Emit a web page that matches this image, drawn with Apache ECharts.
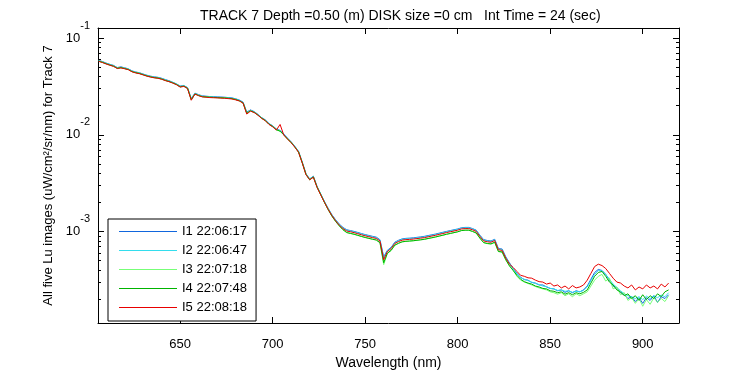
<!DOCTYPE html>
<html>
<head>
<meta charset="utf-8">
<script src="https://cdn.jsdelivr.net/npm/echarts@6/dist/echarts.min.js"></script>
<style>html,body{margin:0;padding:0;background:#fff;}#chart{width:750px;height:375px;}</style>
</head>
<body>
<div id="chart"></div>
<script>
const titleText = 'TRACK 7 Depth =0.50 (m) DISK size =0 cm   Int Time = 24 (sec)';
const xName = 'Wavelength (nm)';
const yName = 'All five Lu images (uW/cm²/sr/nm) for Track 7';
const seriesNames = ['I1 22:06:17', 'I2 22:06:47', 'I3 22:07:18', 'I4 22:07:48', 'I5 22:08:18'];
const seriesColors = ['#1166dd', '#33dded', '#77ff77', '#00b400', '#e80000'];

const xTickValues = [650, 700, 750, 800, 850, 900];
const yMajorTicks = [1e-3, 1e-2, 1e-1];
const yMinorTicks = [2e-4,3e-4,4e-4,5e-4,6e-4,7e-4,8e-4,9e-4,
                     2e-3,3e-3,4e-3,5e-3,6e-3,7e-3,8e-3,9e-3,
                     2e-2,3e-2,4e-2,5e-2,6e-2,7e-2,8e-2,9e-2];

const wavelength = [606,608,610,612,614,616,618,620,622,624,626,628,
630,632,634,636,638,640,642,644,646,648,650,652,
654,656,658,660,662,664,666,668,670,672,674,676,
678,680,682,684,686,688,690,692,694,696,698,700,
702,704,706,708,710,712,714,716,718,720,722,724,
726,728,730,732,734,736,738,740,742,744,746,748,
750,752,754,756,758,760,762,764,766,768,770,772,
774,776,778,780,782,784,786,788,790,792,794,796,
798,800,802,804,806,808,810,812,814,816,818,820,
822,824,826,828,
830,832,834,836,838,840,842,844,846,848,
850,852,854,856,858,860,862,864,866,868,
870,872,874,876,878,880,882,884,886,888,
890,892,894,896,898,900,902,904,906,908,
910,912,914];

const I1 = [0.0589,0.0573,0.0553,0.0537,0.0523,0.0497,0.0505,0.0494,0.0482,0.0459,0.0447,0.0439,
0.0426,0.0414,0.0405,0.0398,0.0394,0.0385,0.0373,0.0363,0.0350,0.0337,0.0320,0.0324,
0.0308,0.0238,0.0270,0.0260,0.0253,0.0251,0.0249,0.0248,0.0247,0.0246,0.0245,0.0243,
0.0241,0.0236,0.0229,0.0218,0.0172,0.0181,0.0174,0.0163,0.0151,0.0143,0.0131,0.0124,
0.0115,0.0111,0.0102,0.00925,0.00846,0.00760,0.00674,0.00522,0.00396,0.00350,0.00373,0.00292,
0.00244,0.00204,0.00173,0.00149,0.00132,0.00119,0.00110,0.00104,0.00102,0.00100,0.000976,0.000950,
0.000927,0.000908,0.000889,0.000872,0.000820,0.000545,0.000638,0.000683,0.000773,0.000809,0.000837,0.000847,
0.000852,0.000858,0.000868,0.000878,0.000889,0.000906,0.000922,0.000939,0.000959,0.000980,0.00100,0.00102,
0.00104,0.00106,0.00109,0.00110,0.00110,0.00107,0.00103,0.000914,0.000823,0.000805,0.000796,0.000829,
0.000665,0.000657,0.000545,0.000472,
4.13e-4,3.68e-4,3.35e-4,3.17e-4,3.13e-4,2.96e-4,2.92e-4,2.79e-4,2.79e-4,2.66e-4,
2.57e-4,2.54e-4,2.43e-4,2.48e-4,2.34e-4,2.43e-4,2.32e-4,2.43e-4,2.37e-4,2.48e-4,
2.72e-4,3.20e-4,3.76e-4,4.04e-4,3.94e-4,3.59e-4,3.13e-4,2.72e-4,2.60e-4,2.32e-4,
2.21e-4,2.02e-4,2.11e-4,1.88e-4,2.06e-4,1.80e-4,2.06e-4,1.93e-4,2.16e-4,1.84e-4,
2.11e-4,2.02e-4,2.21e-4];

const I2 = [0.0585,0.0569,0.0549,0.0533,0.0519,0.0493,0.0501,0.0490,0.0479,0.0456,0.0444,0.0436,
0.0423,0.0411,0.0402,0.0395,0.0391,0.0382,0.0370,0.0360,0.0348,0.0335,0.0317,0.0322,
0.0306,0.0234,0.0268,0.0258,0.0251,0.0249,0.0247,0.0246,0.0245,0.0244,0.0243,0.0241,
0.0239,0.0234,0.0227,0.0216,0.0169,0.0179,0.0173,0.0162,0.0150,0.0142,0.0130,0.0123,
0.0114,0.0110,0.0101,0.00918,0.00840,0.00755,0.00669,0.00518,0.00393,0.00347,0.00370,0.00290,
0.00242,0.00203,0.00172,0.00148,0.00131,0.00118,0.00109,0.00103,0.00101,0.000989,0.000964,0.000939,
0.000916,0.000897,0.000878,0.000862,0.000810,0.000533,0.000630,0.000675,0.000764,0.000799,0.000827,0.000837,
0.000842,0.000848,0.000858,0.000868,0.000878,0.000895,0.000911,0.000928,0.000948,0.000968,0.000991,0.00101,
0.00103,0.00105,0.00108,0.00109,0.00109,0.00106,0.00102,0.000903,0.000813,0.000795,0.000787,0.000819,
0.000657,0.000649,0.000539,0.000466,
4.08e-4,3.63e-4,3.31e-4,3.20e-4,3.09e-4,2.99e-4,2.89e-4,2.82e-4,2.72e-4,2.69e-4,
2.57e-4,2.54e-4,2.45e-4,2.48e-4,2.40e-4,2.43e-4,2.34e-4,2.40e-4,2.37e-4,2.45e-4,
2.66e-4,3.09e-4,3.59e-4,3.94e-4,3.90e-4,3.59e-4,3.20e-4,2.85e-4,2.63e-4,2.43e-4,
2.26e-4,2.16e-4,2.11e-4,2.02e-4,2.11e-4,1.97e-4,2.14e-4,2.02e-4,2.16e-4,2.06e-4,
2.19e-4,2.11e-4,2.32e-4];

const I3 = [0.0581,0.0565,0.0545,0.0529,0.0516,0.0490,0.0497,0.0487,0.0476,0.0453,0.0441,0.0433,
0.0420,0.0408,0.0399,0.0392,0.0388,0.0379,0.0367,0.0357,0.0346,0.0333,0.0315,0.0320,
0.0304,0.0232,0.0266,0.0256,0.0249,0.0247,0.0245,0.0244,0.0243,0.0242,0.0241,0.0239,
0.0237,0.0232,0.0225,0.0214,0.0168,0.0178,0.0171,0.0161,0.0149,0.0141,0.0129,0.0122,
0.0113,0.0109,0.0100,0.00910,0.00833,0.00749,0.00664,0.00514,0.00390,0.00344,0.00367,0.00288,
0.00240,0.00200,0.00169,0.00145,0.00128,0.00115,0.00105,0.000978,0.000958,0.000938,0.000914,0.000890,
0.000868,0.000850,0.000832,0.000817,0.000760,0.000453,0.000590,0.000633,0.000718,0.000752,0.000779,0.000789,
0.000794,0.000800,0.000809,0.000818,0.000828,0.000844,0.000859,0.000875,0.000894,0.000913,0.000934,0.000952,
0.000971,0.000990,0.00102,0.00103,0.00103,0.00100,0.000962,0.000850,0.000765,0.000748,0.000741,0.000771,
0.000618,0.000611,0.000507,0.000438,
3.94e-4,3.43e-4,3.13e-4,2.99e-4,2.89e-4,2.79e-4,2.69e-4,2.60e-4,2.54e-4,2.48e-4,
2.37e-4,2.32e-4,2.24e-4,2.32e-4,2.16e-4,2.26e-4,2.11e-4,2.26e-4,2.16e-4,2.26e-4,
2.37e-4,2.72e-4,3.13e-4,3.43e-4,3.59e-4,3.06e-4,3.28e-4,2.54e-4,2.66e-4,2.21e-4,
2.32e-4,1.93e-4,2.06e-4,1.80e-4,2.02e-4,1.68e-4,1.97e-4,1.76e-4,2.06e-4,1.84e-4,
2.02e-4,1.88e-4,2.16e-4];

const I4 = [0.0579,0.0563,0.0544,0.0528,0.0514,0.0488,0.0496,0.0485,0.0474,0.0451,0.0440,0.0432,
0.0419,0.0407,0.0398,0.0391,0.0387,0.0378,0.0366,0.0356,0.0345,0.0332,0.0314,0.0319,
0.0303,0.0231,0.0265,0.0255,0.0248,0.0247,0.0245,0.0244,0.0243,0.0242,0.0241,0.0239,
0.0237,0.0232,0.0225,0.0214,0.0167,0.0177,0.0171,0.0160,0.0149,0.0141,0.0129,0.0122,
0.0113,0.0109,0.0100,0.00909,0.00832,0.00747,0.00662,0.00513,0.00389,0.00343,0.00366,0.00287,
0.00240,0.00199,0.00168,0.00144,0.00127,0.00114,0.00104,0.000972,0.000953,0.000934,0.000910,0.000886,
0.000865,0.000847,0.000829,0.000814,0.000765,0.000474,0.000595,0.000637,0.000721,0.000754,0.000781,0.000790,
0.000795,0.000801,0.000810,0.000819,0.000829,0.000845,0.000860,0.000876,0.000895,0.000914,0.000935,0.000953,
0.000972,0.000991,0.00102,0.00103,0.00103,0.00100,0.000963,0.000852,0.000767,0.000750,0.000743,0.000773,
0.000620,0.000613,0.000509,0.000440,
3.94e-4,3.51e-4,3.20e-4,3.02e-4,2.92e-4,2.85e-4,2.72e-4,2.66e-4,2.57e-4,2.54e-4,
2.43e-4,2.40e-4,2.32e-4,2.37e-4,2.24e-4,2.32e-4,2.21e-4,2.32e-4,2.26e-4,2.34e-4,
2.48e-4,2.92e-4,3.43e-4,3.76e-4,3.85e-4,3.43e-4,2.99e-4,2.79e-4,2.48e-4,2.37e-4,
2.16e-4,2.26e-4,2.02e-4,2.16e-4,1.93e-4,2.21e-4,1.97e-4,2.16e-4,2.02e-4,2.26e-4,
2.11e-4,2.37e-4,2.48e-4];

const I5 = [0.0576,0.0560,0.0541,0.0525,0.0511,0.0486,0.0493,0.0483,0.0472,0.0449,0.0437,0.0429,
0.0417,0.0405,0.0396,0.0389,0.0385,0.0376,0.0364,0.0355,0.0343,0.0330,0.0312,0.0317,
0.0301,0.0228,0.0264,0.0254,0.0247,0.0245,0.0243,0.0242,0.0241,0.0240,0.0239,0.0237,
0.0235,0.0230,0.0224,0.0213,0.0164,0.0176,0.0170,0.0160,0.0148,0.0140,0.0128,0.0121,
0.0112,0.0128,0.00995,0.00904,0.00827,0.00744,0.00659,0.00510,0.00387,0.00342,0.00364,0.00286,
0.00238,0.00200,0.00169,0.00146,0.00129,0.00116,0.00107,0.00101,0.000992,0.000971,0.000947,0.000922,
0.000900,0.000881,0.000862,0.000846,0.000795,0.000509,0.000619,0.000663,0.000750,0.000785,0.000812,0.000822,
0.000827,0.000833,0.000843,0.000852,0.000862,0.000879,0.000895,0.000911,0.000931,0.000951,0.000973,0.000992,
0.00101,0.00103,0.00106,0.00107,0.00107,0.00104,0.00100,0.000887,0.000798,0.000781,0.000773,0.000804,
0.000645,0.000637,0.000529,0.000458,
4.23e-4,3.85e-4,3.51e-4,3.43e-4,3.31e-4,3.28e-4,3.13e-4,3.02e-4,2.99e-4,2.85e-4,
2.92e-4,2.72e-4,2.79e-4,2.60e-4,2.72e-4,2.54e-4,2.75e-4,2.60e-4,2.66e-4,2.79e-4,
3.13e-4,3.68e-4,4.33e-4,4.58e-4,4.43e-4,4.13e-4,3.68e-4,3.28e-4,2.99e-4,2.92e-4,
2.72e-4,2.60e-4,2.79e-4,2.48e-4,2.66e-4,2.54e-4,2.79e-4,2.60e-4,2.72e-4,2.54e-4,
2.85e-4,2.66e-4,2.92e-4];

const allSeries = [I1, I2, I3, I4, I5];

const FONT = '"Liberation Sans", Arial, Helvetica, sans-serif';
const X_MIN = 605.6, X_MAX = 919.6;
const Y_MIN = 1.127e-4, Y_MAX = 0.1276;

const chart = echarts.init(document.getElementById('chart'), null, {renderer: 'canvas'});

const black = '#000';
function xAxisDef(pos, withLabels) {
  return {
    type: 'value', position: pos, min: X_MIN, max: X_MAX,
    axisLine: {show: true, onZero: false, lineStyle: {color: black, width: 1}},
    axisTick: {show: true, inside: true, length: 6, customValues: xTickValues, lineStyle: {color: black}},
    axisLabel: withLabels ? {show: true, customValues: xTickValues, color: black, fontSize: 13, fontFamily: FONT, margin: 15}
                          : {show: false},
    splitLine: {show: false},
    name: withLabels ? xName : '',
    nameLocation: 'middle', nameGap: 33,
    nameTextStyle: {color: black, fontSize: 14, fontFamily: FONT}
  };
}
function yAxisDef(pos, ticks, len, withLine, withLabels) {
  const a = {
    type: 'log', position: pos, min: Y_MIN, max: Y_MAX, logBase: 10,
    axisLine: {show: withLine, onZero: false, lineStyle: {color: black, width: 1}},
    axisTick: {show: true, inside: true, length: len, customValues: ticks, lineStyle: {color: black}},
    axisLabel: {show: false},
    splitLine: {show: false},
    minorTick: {show: false}, minorSplitLine: {show: false}
  };
  if (withLabels) {
    a.axisLabel = {
      show: true, customValues: yMajorTicks, margin: 8,
      formatter: v => '{b|10}{s|' + Math.round(Math.log10(v)) + '}',
      rich: {
        b: {fontSize: 13, fontFamily: FONT, color: black, lineHeight: 36, verticalAlign: 'middle'},
        s: {fontSize: 11, fontFamily: FONT, color: black, lineHeight: 12, verticalAlign: 'top'}
      }
    };
    a.name = yName;
    a.nameLocation = 'middle';
    a.nameGap = 35;
    a.nameRotate = 90;
    a.nameTextStyle = {color: black, fontSize: 13, fontFamily: FONT};
  }
  return a;
}

const option = {
  animation: false,
  backgroundColor: '#fff',
  title: {
    text: titleText, left: 195, top: 4,
    textStyle: {color: black, fontSize: 14, fontWeight: 'normal', fontFamily: FONT}
  },
  grid: {left: 98, top: 28, width: 581, height: 303, containLabel: false},
  xAxis: [xAxisDef('bottom', true), xAxisDef('top', false)],
  yAxis: [
    yAxisDef('left', yMajorTicks, 6, true, true),
    yAxisDef('left', yMinorTicks, 3, false, false),
    yAxisDef('right', yMajorTicks, 6, true, false),
    yAxisDef('right', yMinorTicks, 3, false, false)
  ],
  legend: {
    orient: 'vertical', left: 108, top: 219,
    padding: [5, 9, 6, 11], itemWidth: 58, itemHeight: 1, itemGap: 4,
    icon: 'rect',
    borderColor: black, borderWidth: 1, borderRadius: 0, backgroundColor: '#fff',
    textStyle: {color: black, fontSize: 13, lineHeight: 15, fontFamily: FONT},
    data: seriesNames
  },
  series: allSeries.map((vals, k) => ({
    name: seriesNames[k], type: 'line', xAxisIndex: 0, yAxisIndex: 0,
    symbol: 'none', showSymbol: false, smooth: false,
    lineStyle: {color: seriesColors[k], width: 1},
    itemStyle: {color: seriesColors[k]},
    emphasis: {disabled: true},
    data: wavelength.map((w, i) => [w, vals[i]])
  }))
};
chart.setOption(option);
</script>
</body>
</html>
